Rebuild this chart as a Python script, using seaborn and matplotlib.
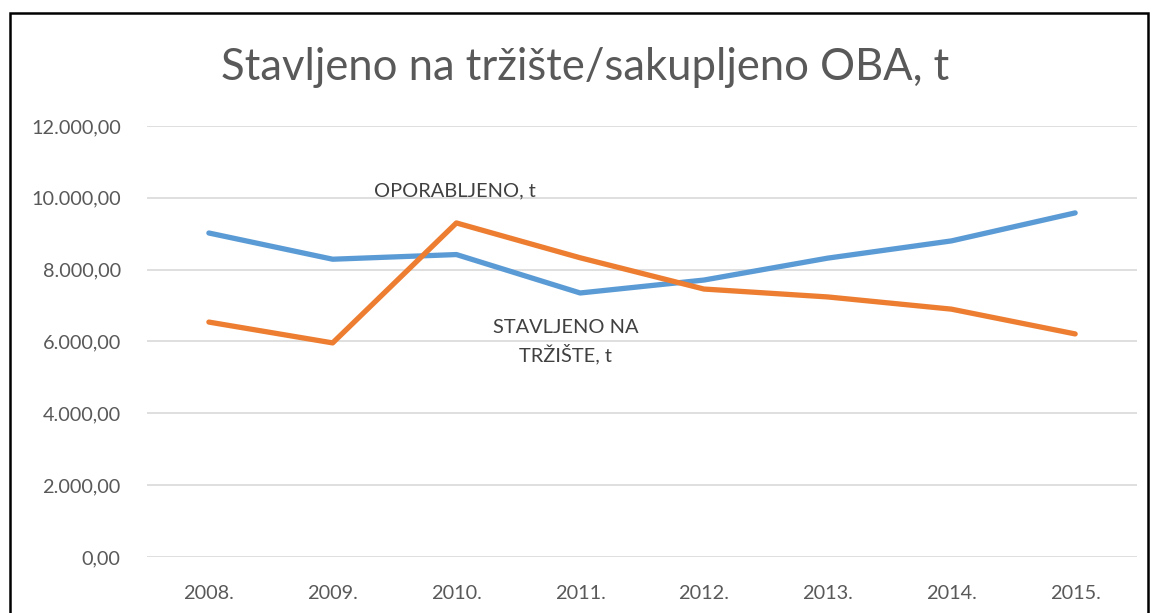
import matplotlib
matplotlib.use("Agg")
import matplotlib.pyplot as plt
import matplotlib.patches as mpatches
from matplotlib.ticker import FuncFormatter
import pandas as pd
import seaborn as sns

years = ["2008.", "2009.", "2010.", "2011.", "2012.", "2013.", "2014.", "2015."]
stavljeno = [9020, 8290, 8420, 7350, 7710, 8320, 8800, 9580]
oporabljeno = [6540, 5960, 9300, 8330, 7460, 7240, 6900, 6210]
series_names = ["STAVLJENO NA TRŽIŠTE, t", "OPORABLJENO, t"]

df = pd.DataFrame({
    "pos": list(range(len(years))) * 2,
    "value": stavljeno + oporabljeno,
    "series": [series_names[0]] * len(years) + [series_names[1]] * len(years),
})

sns.set_style("white")
plt.rcParams["font.family"] = ["Lato", "DejaVu Sans"]

fig = plt.figure(figsize=(11.54, 6.13), dpi=100)
ax = fig.add_axes([0.1274, 0.0914, 0.8579, 0.7031])

sns.lineplot(data=df, x="pos", y="value", hue="series",
             palette={series_names[0]: "#5B9BD5", series_names[1]: "#ED7D31"},
             linewidth=3.8, legend=False, ax=ax, sort=False)
for ln in ax.lines:
    ln.set_solid_capstyle("round")
    ln.set_solid_joinstyle("round")

ax.set_xlim(-0.5, len(years) - 0.5)
ax.set_ylim(0, 12000)
ax.set_yticks(range(0, 12001, 2000))
ax.yaxis.set_major_formatter(FuncFormatter(
    lambda v, p: f"{v:,.2f}".replace(",", "X").replace(".", ",").replace("X", ".")))
ax.set_xticks(range(len(years)))
ax.set_xticklabels(years)
ax.set_xlabel("")
ax.set_ylabel("")
ax.grid(axis="y", color="#D9D9D9", linewidth=1.2)
ax.set_axisbelow(True)
for s in ax.spines.values():
    s.set_visible(False)
ax.tick_params(axis="both", length=0, labelsize=14.3, colors="#595959")
ax.tick_params(axis="y", pad=19)
ax.tick_params(axis="x", pad=20)

fig.text(0.507, 0.89, "Stavljeno na tržište/sakupljeno OBA, t",
         ha="center", va="center", fontsize=31.4, color="#595959")

ax.text(1.99, 10190, "OPORABLJENO, t", ha="center", va="center",
        fontsize=14.4, color="#404040")
ax.text(2.88, 6000, "STAVLJENO NA\nTRŽIŠTE, t", ha="center", va="center",
        fontsize=14.4, color="#404040", linespacing=1.45)

fig.patches.append(mpatches.Rectangle((10 / 1154, -0.2), 1138 / 1154, 1.2 - 13 / 613,
                                      transform=fig.transFigure, fill=False,
                                      edgecolor="black", linewidth=1.8))

fig.savefig("out.png", dpi=100)
